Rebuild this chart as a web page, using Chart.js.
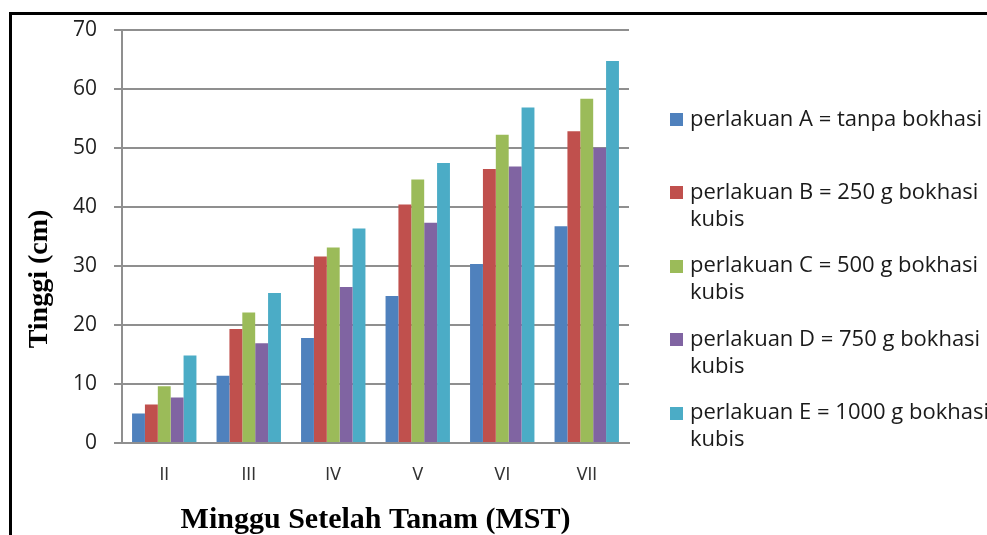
<!DOCTYPE html>
<html><head><meta charset="utf-8">
<script src="https://cdn.jsdelivr.net/npm/chart.js@4.4.1/dist/chart.umd.min.js"></script>
<style>
html,body{margin:0;padding:0;background:#fff;width:987px;height:535px;overflow:hidden;position:relative}
#frame{position:absolute;left:9px;top:12px;width:1100px;height:700px;border:3px solid #000;box-sizing:border-box}
#wrap{position:absolute;left:0;top:0;width:987px;height:535px}
#ytitle{position:absolute;left:-62px;top:262px;width:200px;height:34px;line-height:34px;text-align:center;
  font-family:'Liberation Serif';font-weight:bold;font-size:28px;color:#000;transform:rotate(-90deg);white-space:nowrap}
.item{position:absolute;left:670px;white-space:nowrap;font-family:'Open Sans';font-size:22px;color:#1a1a1a}
.sw{position:absolute;left:0;width:13px;height:13px}
.tx{position:absolute;left:20px;top:0;line-height:27px}
</style></head>
<body>
<div id="frame"></div>
<div id="wrap"><canvas id="c" width="987" height="535"></canvas></div>
<div id="ytitle">Tinggi (cm)</div>
<div id="legend"></div>
<script>
const categories = ['II','III','IV','V','VI','VII'];
const seriesLabels = [
  ['perlakuan A = tanpa bokhasi'],
  ['perlakuan B = 250 g bokhasi', 'kubis'],
  ['perlakuan C = 500 g bokhasi', 'kubis'],
  ['perlakuan D = 750 g bokhasi', 'kubis'],
  ['perlakuan E = 1000 g bokhasi', 'kubis']
];
const perlakuanA = [5.0, 11.4, 17.8, 24.9, 30.3, 36.7];
const perlakuanB = [6.5, 19.3, 31.6, 40.4, 46.4, 52.8];
const perlakuanC = [9.6, 22.1, 33.1, 44.6, 52.2, 58.3];
const perlakuanD = [7.7, 16.9, 26.4, 37.3, 46.8, 50.0];
const perlakuanE = [14.8, 25.4, 36.3, 47.4, 56.8, 64.7];
const yTicks = [0, 10, 20, 30, 40, 50, 60, 70];
const xTitle = 'Minggu Setelah Tanam (MST)';

const seriesValues = [perlakuanA, perlakuanB, perlakuanC, perlakuanD, perlakuanE];
const colors = ['#4F81BD', '#C0504D', '#9BBB59', '#8064A2', '#4BACC6'];

const datasets = seriesValues.map((v, i) => ({
  label: seriesLabels[i].join(' '),
  data: v,
  backgroundColor: colors[i],
  borderWidth: 0,
  categoryPercentage: 0.762,
  barPercentage: 1.0
}));

new Chart(document.getElementById('c'), {
  type: 'bar',
  data: { labels: categories, datasets },
  options: {
    responsive: false,
    animation: false,
    layout: { padding: { left: 12, top: 26, right: 358, bottom: 0 } },
    plugins: { legend: { display: false }, tooltip: { enabled: false } },
    scales: {
      x: {
        grid: { display: false, drawTicks: false },
        border: { color: '#8f8f8f', width: 2 },
        ticks: { padding: 22, color: '#333',
          font: { family: "'Liberation Sans Narrow', 'DejaVu Sans Condensed', 'Liberation Sans', sans-serif", size: 18 } },
        title: { display: true, text: xTitle, color: '#000',
          font: { family: 'Liberation Serif', weight: 'bold', size: 30, lineHeight: 1 },
          padding: { top: 0, bottom: 0 } },
        afterFit(s) { s.height = 92; }
      },
      y: {
        min: 0, max: 70,
        afterBuildTicks(s) { s.ticks = yTicks.map(v => ({ value: v })); },
        ticks: { padding: 17, color: '#1f1f1f', font: { family: 'Open Sans', size: 21 } },
        grid: { color: '#8f8f8f', lineWidth: 2, tickLength: 8 },
        border: { color: '#8f8f8f', width: 2 },
        afterFit(s) { s.width = 110; }
      }
    }
  }
});

const legend = document.getElementById('legend');
seriesLabels.forEach((lines, i) => {
  const item = document.createElement('div');
  item.className = 'item';
  const cy = 119.5 + i * 73.4;
  item.style.top = (cy - 16) + 'px';
  const sw = document.createElement('div');
  sw.className = 'sw';
  sw.style.background = colors[i];
  sw.style.top = (16 - 6.5) + 'px';
  const tx = document.createElement('div');
  tx.className = 'tx';
  tx.innerHTML = lines.map(t => t.replace(/&/g,'&amp;').replace(/</g,'&lt;')).join('<br>');
  item.appendChild(sw);
  item.appendChild(tx);
  legend.appendChild(item);
});
</script>
</body></html>
